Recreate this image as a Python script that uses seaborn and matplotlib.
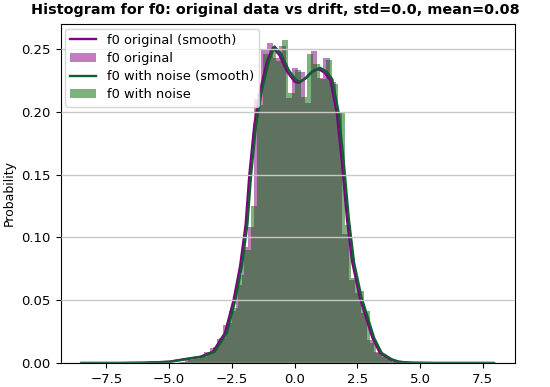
import matplotlib
matplotlib.use("Agg")
import matplotlib.pyplot as plt
import seaborn as sns
import numpy as np
import pandas as pd

# histogram bars (bin centers, probability per bin)
orig_centers = [-4.475, -4.225, -3.975, -3.725, -3.475, -3.225, -2.975, -2.725, -2.475,
                -2.225, -1.975, -1.725, -1.475, -1.225, -0.975, -0.725, -0.475, -0.225,
                0.025, 0.275, 0.525, 0.775, 1.025, 1.275, 1.525, 1.775, 2.025, 2.275,
                2.525, 2.775, 3.025, 3.275, 3.525, 3.775, 4.025, 4.275]
orig_heights = [0.001, 0.002, 0.003, 0.005, 0.009, 0.012, 0.019, 0.030, 0.041,
                0.062, 0.092, 0.108, 0.210, 0.249, 0.255, 0.243, 0.252, 0.211,
                0.235, 0.232, 0.207, 0.248, 0.227, 0.243, 0.224, 0.199, 0.103, 0.066,
                0.056, 0.040, 0.018, 0.009, 0.006, 0.003, 0.001, 0.0]

noise_centers = [-4.375, -4.125, -3.875, -3.625, -3.375, -3.125, -2.875, -2.625, -2.375,
                 -2.125, -1.875, -1.625, -1.375, -1.125, -0.875, -0.625, -0.375, -0.125,
                 0.125, 0.375, 0.625, 0.875, 1.125, 1.375, 1.625, 1.875, 2.125, 2.375,
                 2.625, 2.875, 3.125, 3.375, 3.625, 3.875, 4.125, 4.375]
noise_heights = [0.001, 0.002, 0.003, 0.005, 0.008, 0.013, 0.020, 0.032, 0.044,
                 0.070, 0.090, 0.125, 0.205, 0.246, 0.250, 0.240, 0.257, 0.215,
                 0.233, 0.212, 0.246, 0.238, 0.226, 0.241, 0.222, 0.200, 0.110, 0.068,
                 0.057, 0.041, 0.016, 0.008, 0.005, 0.002, 0.001, 0.0]

# smooth (kde) curves
orig_kde_x = [-8.5, -7.0, -6.0, -5.0, -4.4, -3.75, -3.25, -2.77, -2.43, -2.17, -1.95, -1.8,
              -1.6, -1.37, -1.1, -0.86, -0.6, -0.3, 0.0, 0.16, 0.4, 0.7, 0.96, 1.2, 1.43,
              1.69, 1.89, 2.09, 2.3, 2.6, 3.1, 3.4, 3.8, 4.1, 4.6, 5.5, 7.0, 7.9]
orig_kde_y = [0, 0, 0.0002, 0.001, 0.003, 0.005, 0.009, 0.024, 0.05, 0.077, 0.11, 0.15,
              0.19, 0.217, 0.24, 0.251, 0.245, 0.232, 0.224, 0.223, 0.226, 0.232, 0.234,
              0.231, 0.225, 0.198, 0.159, 0.114, 0.08, 0.052, 0.02, 0.008, 0.003, 0.001,
              0.0002, 0, 0, 0]

noise_kde_x = [-8.45, -6.95, -5.95, -4.95, -4.33, -3.68, -3.18, -2.70, -2.36, -2.10, -1.88,
               -1.73, -1.53, -1.30, -1.03, -0.80, -0.53, -0.23, 0.07, 0.23, 0.47, 0.77, 1.02,
               1.27, 1.50, 1.76, 1.96, 2.16, 2.37, 2.67, 3.17, 3.47, 3.87, 4.17, 4.67, 5.55,
               7.05, 7.95]
noise_kde_y = [0, 0, 0.0002, 0.001, 0.003, 0.005, 0.009, 0.024, 0.05, 0.077, 0.11, 0.15,
               0.19, 0.217, 0.24, 0.252, 0.246, 0.233, 0.225, 0.224, 0.227, 0.233, 0.235,
               0.232, 0.226, 0.199, 0.16, 0.115, 0.08, 0.052, 0.02, 0.008, 0.003, 0.001,
               0.0002, 0, 0, 0]

title = "Histogram for f0: original data vs drift, std=0.0, mean=0.08"
labels = ["f0 original (smooth)", "f0 original", "f0 with noise (smooth)", "f0 with noise"]

purple = "purple"
green = "darkgreen"

fig, ax = plt.subplots(figsize=(5.5, 3.87), dpi=100)

sns.histplot(x=orig_centers, weights=orig_heights, binwidth=0.25, binrange=(-4.6, 4.4),
             stat="count", color=purple, alpha=0.5, linewidth=0, label=labels[1], ax=ax)
sns.histplot(x=noise_centers, weights=noise_heights, binwidth=0.25, binrange=(-4.5, 4.5),
             stat="count", color=green, alpha=0.5, linewidth=0, label=labels[3], ax=ax)
sns.lineplot(x=orig_kde_x, y=orig_kde_y, color=purple, linewidth=1.7, label=labels[0], ax=ax)
sns.lineplot(x=noise_kde_x, y=noise_kde_y, color="#0f5f30", linewidth=1.7, label=labels[2], ax=ax)

fig.suptitle(title, fontsize=10.4, fontweight="bold", y=0.992)
ax.set_ylabel("Probability", fontsize=9)
ax.set_xlabel("")
ax.tick_params(labelsize=9.5)
ax.yaxis.grid(True, color="#c8c8c8", linewidth=1)
ax.set_axisbelow(False)

handles, labs = ax.get_legend_handles_labels()
hmap = dict(zip(labs, handles))
ax.legend([hmap[l] for l in labels], labels, loc="upper left", fontsize=9.4,
          labelspacing=0.4, borderaxespad=0.35)

fig.subplots_adjust(left=0.11, right=0.936, top=0.938, bottom=0.062)
fig.savefig("out.png", dpi=100)
